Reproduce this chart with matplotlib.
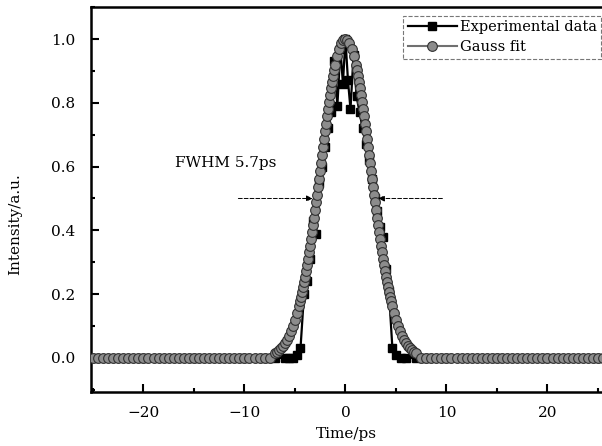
import matplotlib.pyplot as plt
from matplotlib.ticker import MultipleLocator

plt.rcParams['font.family'] = ['DejaVu Serif']

# Gauss fit (FWHM 5.7 ps)
base_left_t = [-25.0, -24.5, -24.0, -23.5, -23.0, -22.5, -22.0, -21.5, -21.0, -20.5,
               -20.0, -19.5, -19.0, -18.5, -18.0, -17.5, -17.0, -16.5, -16.0, -15.5,
               -15.0, -14.5, -14.0, -13.5, -13.0, -12.5, -12.0, -11.5, -11.0, -10.5,
               -10.0, -9.5, -9.0, -8.5, -8.0, -7.5]
base_right_t = [7.5, 8.0, 8.5, 9.0, 9.5, 10.0, 10.5, 11.0, 11.5, 12.0,
                12.5, 13.0, 13.5, 14.0, 14.5, 15.0, 15.5, 16.0, 16.5, 17.0,
                17.5, 18.0, 18.5, 19.0, 19.5, 20.0, 20.5, 21.0, 21.5, 22.0,
                22.5, 23.0, 23.5, 24.0, 24.5, 25.0, 25.5]
peak_t = [-7.0, -6.8, -6.6, -6.4, -6.2, -6.0, -5.8, -5.6, -5.4, -5.2, -5.0, -4.8, -4.6,
          -4.5, -4.4, -4.3, -4.2, -4.1, -4.0, -3.9, -3.8, -3.7, -3.6, -3.5, -3.4, -3.3, -3.2, -3.1, -3.0,
          -2.9, -2.8, -2.7, -2.6, -2.5, -2.4, -2.3, -2.2, -2.1, -2.0, -1.9, -1.8, -1.7, -1.6, -1.5, -1.4, -1.3, -1.2, -1.1,
          -1.0, -0.8, -0.6, -0.4, -0.2, 0.0, 0.2, 0.4, 0.6, 0.8, 1.0,
          1.1, 1.2, 1.3, 1.4, 1.5, 1.6, 1.7, 1.8, 1.9, 2.0, 2.1, 2.2, 2.3, 2.4, 2.5, 2.6, 2.7, 2.8, 2.9,
          3.0, 3.1, 3.2, 3.3, 3.4, 3.5, 3.6, 3.7, 3.8, 3.9, 4.0, 4.1, 4.2, 4.3, 4.4, 4.5,
          4.6, 4.8, 5.0, 5.2, 5.4, 5.6, 5.8, 6.0, 6.2, 6.4, 6.6, 6.8, 7.0]
peak_y = [0.015, 0.019, 0.024, 0.030, 0.038, 0.046, 0.057, 0.069, 0.083, 0.100, 0.118, 0.140, 0.164,
          0.178, 0.192, 0.207, 0.222, 0.238, 0.255, 0.273, 0.292, 0.311, 0.331, 0.352, 0.373, 0.395, 0.417, 0.440, 0.464,
          0.488, 0.512, 0.537, 0.562, 0.587, 0.612, 0.637, 0.662, 0.686, 0.711, 0.735, 0.758, 0.781, 0.804, 0.825, 0.846, 0.866, 0.884, 0.902,
          0.918, 0.947, 0.970, 0.986, 0.997, 1.000, 0.997, 0.986, 0.970, 0.947, 0.918,
          0.902, 0.884, 0.866, 0.846, 0.825, 0.804, 0.781, 0.758, 0.735, 0.711, 0.686, 0.662, 0.637, 0.612, 0.587, 0.562, 0.537, 0.512, 0.488,
          0.464, 0.440, 0.417, 0.395, 0.373, 0.352, 0.331, 0.311, 0.292, 0.273, 0.255, 0.238, 0.222, 0.207, 0.192, 0.178,
          0.164, 0.140, 0.118, 0.100, 0.083, 0.069, 0.057, 0.046, 0.038, 0.030, 0.024, 0.019, 0.015]
fit_t = base_left_t + peak_t + base_right_t
fit_y = [0.0] * len(base_left_t) + peak_y + [0.0] * len(base_right_t)

# measured autocorrelation trace
exp_t = [-25.0, -20.0, -15.0, -10.0, -8.0, -7.0, -6.0, -5.6, -5.2, -4.8,
         -4.45, -4.1, -3.8, -3.5, -3.2, -2.9, -2.6, -2.3, -2.0, -1.7,
         -1.4, -1.1, -0.8, -0.5, -0.25, 0.0, 0.25, 0.5, 0.8, 1.1,
         1.4, 1.7, 2.0, 2.3, 2.6, 2.9, 3.1, 3.4, 3.7, 4.0,
         4.3, 4.65, 5.0, 5.5, 6.0, 7.0, 8.0, 10.0, 15.0, 20.0, 25.0]
exp_y = [0.0, 0.0, 0.0, 0.0, 0.0, 0.0, 0.0, 0.0, 0.0, 0.01,
         0.03, 0.20, 0.24, 0.31, 0.43, 0.39, 0.55, 0.60, 0.66, 0.72,
         0.77, 0.93, 0.79, 0.97, 0.86, 1.00, 0.87, 0.78, 0.95, 0.82,
         0.77, 0.72, 0.67, 0.62, 0.56, 0.50, 0.46, 0.41, 0.38, 0.28,
         0.21, 0.03, 0.01, 0.0, 0.0, 0.0, 0.0, 0.0, 0.0, 0.0, 0.0]

fig = plt.figure(figsize=(6.02, 4.46), dpi=100)
ax = fig.add_axes([0.151, 0.121, 0.849, 0.863])

ax.plot(exp_t, exp_y, color='black', lw=1.6, marker='s', ms=5.5,
        mfc='black', mec='black', label='Experimental data', zorder=2)
ax.plot(fit_t, fit_y, color='#707070', lw=1.5, marker='o', ms=7,
        mfc='#8c8c8c', mec='#303030', mew=0.8, label='Gauss fit', zorder=3)

ax.annotate('', xy=(-3.25, 0.5), xytext=(-10.6, 0.5), zorder=6,
            arrowprops=dict(arrowstyle='-|>', color='black', lw=0.7,
                            ls=(0, (4, 2)), mutation_scale=9, shrinkA=0, shrinkB=0))
ax.annotate('', xy=(3.25, 0.5), xytext=(9.6, 0.5), zorder=6,
            arrowprops=dict(arrowstyle='-|>', color='black', lw=0.7,
                            ls=(0, (4, 2)), mutation_scale=9, shrinkA=0, shrinkB=0))
ax.text(-16.9, 0.61, 'FWHM 5.7ps', fontsize=11, ha='left', va='center')

ax.set_xlim(-25.2, 25.4)
ax.set_ylim(-0.107, 1.10)
ax.xaxis.set_major_locator(MultipleLocator(10))
ax.xaxis.set_minor_locator(MultipleLocator(5))
ax.yaxis.set_major_locator(MultipleLocator(0.2))
ax.yaxis.set_minor_locator(MultipleLocator(0.1))
ax.yaxis.set_major_formatter(plt.FormatStrFormatter('%.1f'))
ax.tick_params(which='both', direction='in', width=1.5, labelsize=11)
ax.tick_params(which='major', length=6)
ax.tick_params(which='minor', length=3)
ax.tick_params(axis='y', pad=11)
ax.tick_params(axis='x', pad=10)
for s in ['left', 'bottom', 'top']:
    ax.spines[s].set_linewidth(1.8)
ax.spines['right'].set_visible(False)

ax.set_xlabel('Time/ps', fontsize=11, va='top')
ax.xaxis.set_label_coords(0.5, -0.09)
ax.set_ylabel('Intensity/a.u.', fontsize=11)
ax.yaxis.set_label_coords(-0.135, 0.436)

leg = ax.legend(loc='upper left', bbox_to_anchor=(0.611, 0.977), borderaxespad=0,
                fontsize=10.5, fancybox=False, handlelength=3.4, handletextpad=0.2,
                borderpad=0.3, labelspacing=0.4)
leg.get_frame().set_linestyle('--')
leg.get_frame().set_edgecolor('#555555')
leg.get_frame().set_linewidth(0.8)

fig.savefig('out.png', dpi=100)
